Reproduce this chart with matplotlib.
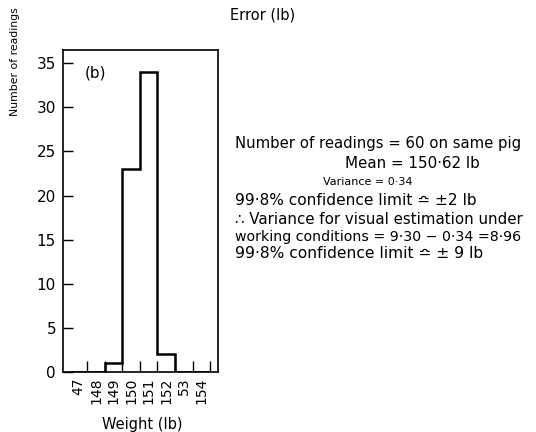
import numpy as np
import matplotlib
matplotlib.use("Agg")
import matplotlib.pyplot as plt

# repeated weighings of one pig, grouped to the nearest lb
weights = [147, 148, 149, 150, 151, 152, 153, 154]
counts = [0, 0, 1, 23, 34, 2, 0, 0]
weight_labels = ["47", "148", "149", "150", "151", "152", "53", "154"]
count_ticks = [0, 5, 10, 15, 20, 25, 30, 35]

notes = [
    "Number of readings = 60 on same pig",
    "Mean = 150·62 lb",
    "Variance = 0·34",
    "99·8% confidence limit ≏ ±2 lb",
    "∴ Variance for visual estimation under",
    "working conditions = 9·30 − 0·34 =8·96",
    "99·8% confidence limit ≏ ± 9 lb",
]

W, H = 536, 432
fig = plt.figure(figsize=(W / 100, H / 100), dpi=100)
ax = fig.add_axes([63 / W, 1 - 372 / H, (218 - 63) / W, (372 - 50) / H])

edges = np.arange(weights[0] - 0.5, weights[-1] + 1.0, 1.0)
ax.stairs(counts, edges, baseline=0, fill=False, color="black", linewidth=1.8)

ax.set_xlim(146.12, 154.95)
ax.set_ylim(0, 36.5)

# tick marks on the bin edges, labels under the bin centres
ax.set_xticks(edges[1:])
ax.set_xticklabels([])
ax.set_xticks(weights, minor=True)
ax.set_xticklabels(weight_labels, minor=True, rotation=90, fontsize=10)
ax.tick_params(axis="x", which="major", direction="in", length=8, width=1)
ax.tick_params(axis="x", which="minor", length=0, pad=4)

ax.set_yticks(count_ticks)
ax.set_yticklabels([str(c) for c in count_ticks], fontsize=11)
ax.tick_params(axis="y", direction="in", length=7, width=1, pad=5)

for s in ax.spines.values():
    s.set_linewidth(1.2)

ax.text(0.14, 0.93, "(b)", transform=ax.transAxes, fontsize=11, va="center")

fig.text(15 / W, 1 - 62 / H, "Number of readings", rotation=90,
         ha="center", va="center", fontsize=7.8)
fig.text(142 / W, 1 - 424 / H, "Weight (lb)", ha="center", va="center", fontsize=10.5)
fig.text(230 / W, 1 - 15 / H, "Error (lb)", ha="left", va="center", fontsize=10.5)

# left x, centre y and size of each line of the notes block (pixels / pt)
note_layout = [(235, 143, 10.7), (345, 163, 10.9), (323, 182, 8.0),
               (235, 200, 11.1), (235, 219, 10.8), (235, 237, 10.2),
               (235, 254, 11.2)]
for txt, (x, y, fs) in zip(notes, note_layout):
    fig.text(x / W, 1 - y / H, txt, ha="left", va="center", fontsize=fs)

fig.savefig("out.png", dpi=100)
